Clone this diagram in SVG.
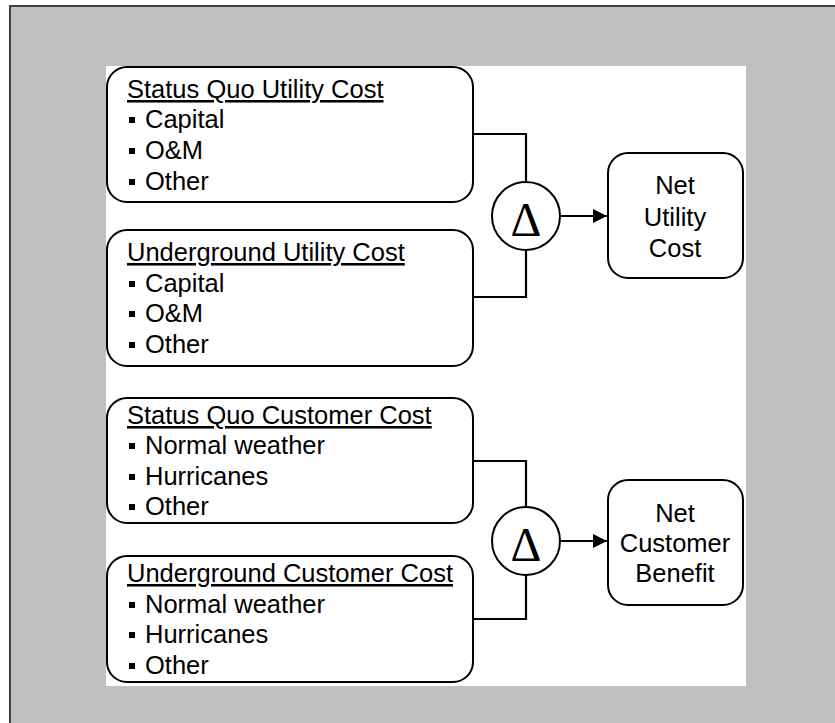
<svg xmlns="http://www.w3.org/2000/svg" width="835" height="723" viewBox="0 0 835 723">
<defs>
<style>
.box{fill:#fff;stroke:#000;stroke-width:2}
.t{font-family:"Liberation Sans",Arial,sans-serif;font-size:25.5px;fill:#000}
.h{text-decoration:underline}
.c{text-anchor:middle}
.d{font-family:"Liberation Serif","Times New Roman",serif;font-size:48px;text-anchor:middle;fill:#000}
.ln{fill:none;stroke:#000;stroke-width:2.2}
.b{fill:#000}
</style>
<marker id="ah" viewBox="0 0 10 10" refX="10" refY="5" markerWidth="17" markerHeight="14" markerUnits="userSpaceOnUse" orient="auto">
<path d="M0,0 L10,5 L0,10 Z" fill="#000"/>
</marker>
</defs>
<rect x="0" y="0" width="835" height="723" fill="#fff"/>
<rect x="10" y="6" width="840" height="730" fill="#c0c0c0" stroke="#404040" stroke-width="2"/>
<rect x="106" y="66" width="640" height="620" fill="#fff"/>

<g id="connectors">
<path class="ln" d="M473,134 H526 V182"/>
<path class="ln" d="M526,250 V297 H473"/>
<path class="ln" d="M560,216 H607" marker-end="url(#ah)"/>
<path class="ln" d="M473,461 H526 V507"/>
<path class="ln" d="M526,575 V619 H473"/>
<path class="ln" d="M560,541 H607" marker-end="url(#ah)"/>
</g>

<g id="sq-utility">
<rect class="box" x="107" y="67" width="366" height="135" rx="20"/>
<text class="t h" x="127" y="98">Status Quo Utility Cost</text>
<rect class="b" x="129" y="117" width="6" height="6"/><text class="t" x="145" y="128">Capital</text>
<rect class="b" x="129" y="148" width="6" height="6"/><text class="t" x="145" y="159">O&amp;M</text>
<rect class="b" x="129" y="179" width="6" height="6"/><text class="t" x="145" y="190">Other</text>
</g>

<g id="ug-utility">
<rect class="box" x="107" y="230" width="366" height="136" rx="20"/>
<text class="t h" x="127" y="261">Underground Utility Cost</text>
<rect class="b" x="129" y="281" width="6" height="6"/><text class="t" x="145" y="292">Capital</text>
<rect class="b" x="129" y="311" width="6" height="6"/><text class="t" x="145" y="322">O&amp;M</text>
<rect class="b" x="129" y="342" width="6" height="6"/><text class="t" x="145" y="353">Other</text>
</g>

<g id="delta-utility">
<circle class="box" cx="526" cy="216" r="34"/>
<text class="d" x="526" y="236">Δ</text>
</g>

<g id="net-utility">
<rect class="box" x="608" y="153" width="135" height="125" rx="20"/>
<text class="t c" x="675" y="194">Net</text>
<text class="t c" x="675" y="226">Utility</text>
<text class="t c" x="675" y="257">Cost</text>
</g>

<g id="sq-customer">
<rect class="box" x="107" y="398" width="366" height="125" rx="20"/>
<text class="t h" x="127" y="424">Status Quo Customer Cost</text>
<rect class="b" x="129" y="443" width="6" height="6"/><text class="t" x="145" y="454">Normal weather</text>
<rect class="b" x="129" y="474" width="6" height="6"/><text class="t" x="145" y="485">Hurricanes</text>
<rect class="b" x="129" y="504" width="6" height="6"/><text class="t" x="145" y="515">Other</text>
</g>

<g id="ug-customer">
<rect class="box" x="107" y="556" width="366" height="126" rx="20"/>
<text class="t h" x="127" y="582">Underground Customer Cost</text>
<rect class="b" x="129" y="602" width="6" height="6"/><text class="t" x="145" y="613">Normal weather</text>
<rect class="b" x="129" y="632" width="6" height="6"/><text class="t" x="145" y="643">Hurricanes</text>
<rect class="b" x="129" y="663" width="6" height="6"/><text class="t" x="145" y="674">Other</text>
</g>

<g id="delta-customer">
<circle class="box" cx="526" cy="541" r="34"/>
<text class="d" x="526" y="561">Δ</text>
</g>

<g id="net-customer">
<rect class="box" x="608" y="480" width="135" height="125" rx="20"/>
<text class="t c" x="675" y="522">Net</text>
<text class="t c" x="675" y="552">Customer</text>
<text class="t c" x="675" y="582">Benefit</text>
</g>
</svg>
